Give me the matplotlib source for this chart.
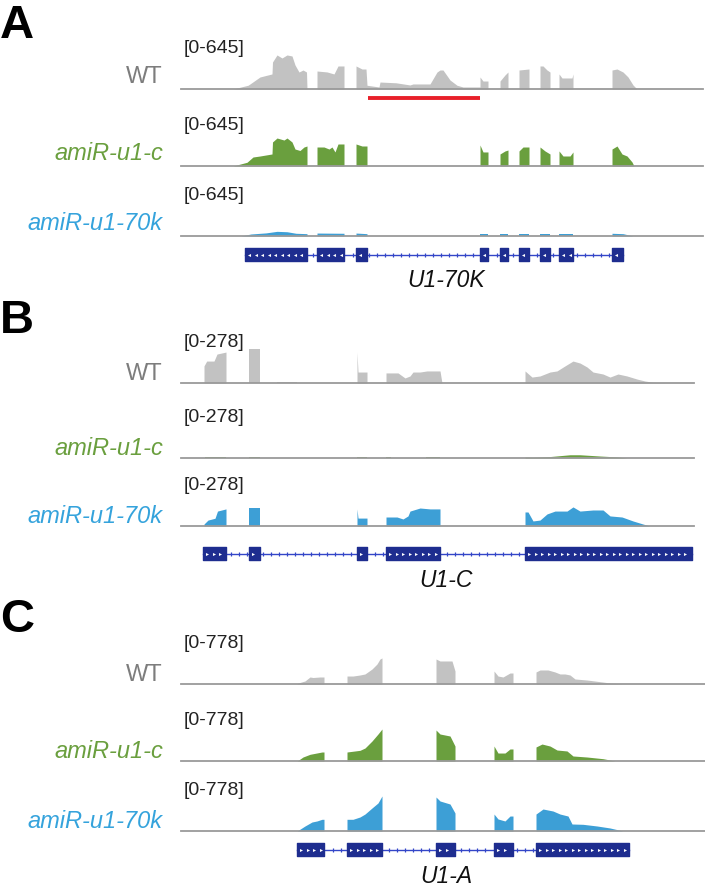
import matplotlib.pyplot as plt
import numpy as np

plt.rcParams['font.family'] = ['Liberation Sans', 'DejaVu Sans']

W, H = 705, 887

# sample names and colours
samples = ['WT', 'amiR-u1-c', 'amiR-u1-70k']
fill_colors = ['#c2c2c2', '#6a9f3e', '#3d9fd6']
name_colors = ['#7d7d7d', '#6a9f3e', '#35a3dc']

genes = ['U1-70K', 'U1-C', 'U1-A']
scales = [645, 278, 778]
strands = ['-', '+', '+']

# read coverage, one list of (position, reads) blocks per track
a_wt = [
    [(52, 0), (67, 48), (69, 65), (79, 155), (91, 194), (91.5, 348), (96, 439), (101, 400), (106, 439),
     (111, 426), (114, 310), (118, 219), (122, 245), (125.5, 219), (126, 0)],
    [(136, 0), (136, 232), (146, 220), (153, 194), (157, 297), (163, 297), (163, 0)],
    [(175, 0), (175, 297), (181, 258), (185, 258), (186, 48), (198, 26), (199, 90), (215, 80), (229, 52),
     (232, 65), (249, 65), (256, 219), (259, 245), (262, 245), (269, 116), (276, 48), (282, 26), (299, 26),
     (299, 155), (302, 103), (307, 103), (307, 0)],
    [(319, 0), (319, 103), (324, 181), (327, 219), (327, 0)],
    [(338, 0), (338, 245), (348, 258), (348, 0)],
    [(359, 0), (359, 297), (362, 297), (366, 245), (369, 219), (369, 0)],
    [(378, 0), (378, 194), (381, 142), (391, 142), (392, 194), (392, 0)],
    [(431, 0), (431, 245), (436, 258), (442, 219), (447, 155), (452, 52), (456, 0)],
]
a_c = [
    [(52, 0), (66, 48), (72, 116), (79, 129), (91, 155), (91.5, 310), (96, 361), (103, 335), (106, 361),
     (111, 310), (114, 219), (119, 200), (123, 245), (126, 258), (126, 0)],
    [(136, 0), (136, 245), (143, 245), (148, 219), (151, 245), (154, 181), (157, 284), (163, 284), (163, 0)],
    [(175, 0), (175, 284), (181, 258), (186, 258), (186, 0)],
    [(299, 0), (299, 271), (302, 181), (307, 181), (307, 0)],
    [(319, 0), (319, 155), (324, 194), (327, 206), (327, 0)],
    [(338, 0), (338, 194), (342, 245), (348, 245), (348, 0)],
    [(359, 0), (359, 245), (364, 194), (369, 155), (369, 0)],
    [(378, 0), (378, 194), (382, 129), (389, 129), (392, 181), (392, 0)],
    [(431, 0), (431, 219), (436, 258), (441, 155), (446, 129), (451, 52), (453, 0)],
]
a_70k = [
    [(60, 0), (70, 26), (85, 40), (96, 60), (106, 55), (115, 35), (126, 30), (126, 0)],
    [(136, 0), (136, 38), (163, 35), (163, 0)],
    [(175, 0), (175, 38), (186, 30), (186, 0)],
    [(299, 0), (299, 25), (307, 25), (307, 0)],
    [(319, 0), (319, 20), (327, 20), (327, 0)],
    [(338, 0), (338, 30), (348, 30), (348, 0)],
    [(359, 0), (359, 25), (369, 25), (369, 0)],
    [(378, 0), (378, 25), (392, 25), (392, 0)],
    [(431, 0), (431, 35), (442, 30), (452, 0)],
]

b_wt = [
    [(23, 0), (23, 95), (25.7, 122), (33, 122), (36, 161), (45, 172), (45, 0)],
    [(68, 0), (68, 189), (79, 189), (79, 0)],
    [(96, 0), (96, 4), (116, 4), (116, 0)],
    [(176, 0), (176, 172), (177, 61), (186, 61), (186, 0)],
    [(205, 0), (205, 56), (217, 56), (224, 28), (229, 39), (232, 61), (239, 61), (246, 67), (259, 67), (261, 0)],
    [(344, 0), (344, 67), (351, 33), (359, 39), (369, 61), (376, 67), (384, 95), (392, 122), (399, 111),
     (406, 89), (412, 61), (422, 50), (429, 33), (437, 50), (446, 39), (456, 22), (464, 11), (472, 4), (492, 0)],
]
b_c = [
    [(24, 0), (24, 7), (45, 7), (45, 0)],
    [(68, 0), (68, 6), (79, 6), (79, 0)],
    [(176, 0), (176, 5), (186, 5), (186, 0)],
    [(205, 0), (205, 4), (210, 4), (210, 0)],
    [(245, 0), (245, 5), (259, 5), (259, 0)],
    [(344, 0), (344, 5), (352, 4), (369, 8), (389, 18), (399, 18), (419, 11), (436, 6), (446, 0)],
]
b_70k = [
    [(23, 0), (23, 11), (27, 33), (34, 43), (36.5, 83), (45, 95), (45, 0)],
    [(68, 0), (68, 100), (79, 100), (79, 0)],
    [(176, 0), (176, 95), (177, 44), (186, 44), (186, 0)],
    [(205, 0), (205, 50), (216, 50), (222, 39), (227, 56), (229, 83), (239, 100), (249, 95), (259, 95), (259, 0)],
    [(344, 0), (344, 78), (347, 78), (352, 28), (359, 33), (366, 67), (374, 83), (386, 83), (392, 106),
     (399, 83), (412, 89), (422, 89), (429, 56), (441, 50), (452, 28), (462, 11), (469, 0)],
]

c_wt = [
    [(116, 0), (116, 10), (124, 47), (129, 109), (132, 101), (139, 109), (143, 109), (143, 0)],
    [(166, 0), (166, 124), (172, 124), (179, 140), (184, 156), (191, 233), (196, 311), (199, 389), (201, 405), (201, 0)],
    [(255, 0), (255, 389), (259, 358), (271, 358), (274, 202), (274, 0)],
    [(313, 0), (313, 202), (317, 124), (322, 109), (329, 171), (332, 171), (332, 0)],
    [(355, 0), (355, 187), (359, 218), (367, 218), (374, 187), (379, 156), (384, 156), (389, 140), (394, 78),
     (406, 62), (416, 42), (429, 16), (442, 0)],
]
c_c = [
    [(116, 0), (117, 8), (122, 62), (129, 104), (141, 140), (143, 140), (143, 0)],
    [(166, 0), (166, 140), (179, 166), (184, 202), (191, 311), (197, 420), (201, 498), (201, 0)],
    [(255, 0), (255, 482), (259, 420), (269, 389), (274, 233), (274, 0)],
    [(313, 0), (313, 233), (317, 124), (324, 124), (329, 187), (332, 187), (332, 0)],
    [(355, 0), (355, 218), (361, 264), (369, 233), (376, 171), (386, 156), (392, 78), (406, 62), (422, 36), (434, 0)],
]
c_70k = [
    [(116, 0), (117, 8), (124, 78), (131, 140), (136, 156), (141, 182), (143, 182), (143, 0)],
    [(166, 0), (166, 182), (172, 182), (179, 218), (184, 264), (191, 358), (197, 436), (201, 545), (201, 0)],
    [(255, 0), (255, 529), (259, 467), (269, 420), (274, 280), (274, 0)],
    [(313, 0), (313, 264), (317, 187), (324, 156), (329, 233), (332, 233), (332, 0)],
    [(355, 0), (355, 264), (362, 342), (372, 311), (379, 264), (387, 233), (391, 109), (402, 104), (416, 78),
     (429, 47), (442, 0)],
]

# exon models (start, end)
a_exons = [(64, 126), (136, 163), (175, 186), (299, 307), (319, 327), (338, 348), (359, 369), (378, 392), (431, 442)]
b_exons = [(22, 45), (68, 79), (176, 186), (205, 259), (344, 511)]
c_exons = [(116, 143), (166, 201), (255, 274), (313, 332), (355, 448)]

# retained intron marked in panel A
a_red_bar = (187, 299)

coverage = [[a_wt, a_c, a_70k], [b_wt, b_c, b_70k], [c_wt, c_c, c_70k]]
exons = [a_exons, b_exons, c_exons]

# layout (pixels)
letters = ['A', 'B', 'C']
letter_base = [38, 333, 632]
track_base = [[90, 167, 237], [384, 459, 527], [685, 762, 832]]
name_off = [7, 4, 4]
gene_mid = [255.5, 554.5, 850.5]
gene_text = [287, 587, 883]
track_end = [522, 513, 524]
X0, XW = 181, 524
TH = 50
navy = '#1e2d8f'

fig = plt.figure(figsize=(W / 100, H / 100), dpi=100)


def px_axes(left, top, w, h):
    ax = fig.add_axes([left / W, 1 - (top + h) / H, w / W, h / H])
    ax.axis('off')
    return ax


for p in range(3):
    fig.text(0 / W, 1 - letter_base[p] / H, letters[p], fontsize=34, fontweight='bold',
             va='baseline', ha='left')
    for t in range(3):
        base = track_base[p][t]
        ax = px_axes(X0, base - TH, XW, TH)
        ax.set_xlim(0, XW)
        ax.set_ylim(0, scales[p])
        for seg in coverage[p][t]:
            xs, ys = zip(*seg)
            ax.fill_between(xs, ys, 0, color=fill_colors[t], lw=0)
        ax.plot([0, track_end[p]], [0, 0], color='#9a9a9a', lw=1.3, clip_on=False)
        if p == 0 and t == 0:
            ax.plot(a_red_bar, [-8.7 * scales[p] / TH] * 2, color='#e8202a', lw=2.8,
                    solid_capstyle='butt', clip_on=False)
        fig.text(184 / W, 1 - (base - 37) / H, f'[0-{scales[p]}]', fontsize=14,
                 color='#222222', va='baseline')
        fig.text(163 / W, 1 - (base - name_off[p]) / H, samples[t], fontsize=17,
                 color=name_colors[t], ha='right', va='baseline',
                 style='normal' if t == 0 else 'italic')

    # gene model
    gx = px_axes(X0, gene_mid[p] - 8, XW, 16)
    gx.set_xlim(0, XW)
    gx.set_ylim(-8, 8)
    ex = exons[p]
    first, last = ex[0][0], ex[-1][1]
    gx.plot([first, last], [0, 0], color='#3346c8', lw=1, zorder=1)
    ticks = [x for x in np.arange(first + 4, last, 8)
             if not any(s - 1 <= x <= e + 1 for s, e in ex)]
    gx.plot(ticks, [0] * len(ticks), ls='none', marker='|', ms=3.5, mew=0.9, color='#3346c8', zorder=1)
    gx.broken_barh([(s, e - s) for s, e in ex], (-6.3, 12.6), color=navy, zorder=2)
    mk = '<' if strands[p] == '-' else '>'
    for s, e in ex:
        dots = np.arange(s + 4, e - 2, 6.5)
        if len(dots) == 0:
            dots = [(s + e) / 2]
        gx.plot(dots, [0] * len(dots), ls='none', marker=mk, ms=2.2, mew=0,
                color='white', zorder=3)
    fig.text(446 / W, 1 - gene_text[p] / H, genes[p], fontsize=16.5, style='italic',
             ha='center', va='baseline', color='#111111')

fig.savefig('out.png', dpi=100)
